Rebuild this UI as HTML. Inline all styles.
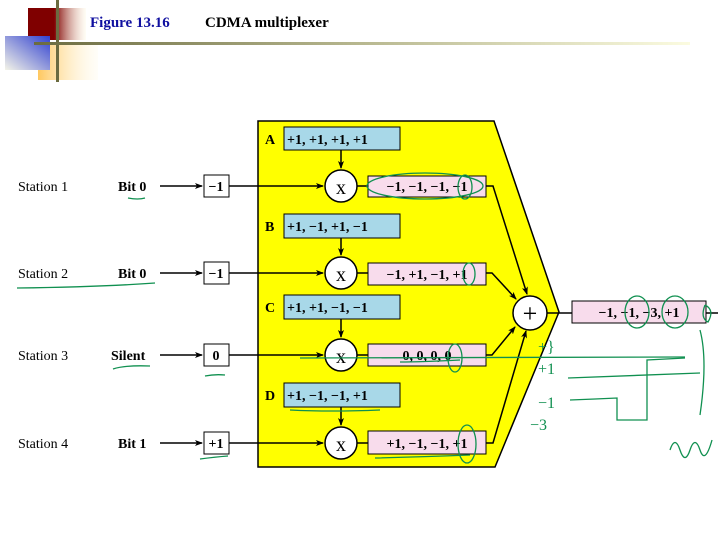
<!DOCTYPE html>
<html><head><meta charset="utf-8"><style>
body{margin:0;background:#fff}
svg{display:block}
text{font-family:"Liberation Serif",serif}
</style></head><body>
<svg width="720" height="540" viewBox="0 0 720 540" xmlns="http://www.w3.org/2000/svg">
<defs>
<linearGradient id="red" x1="0" x2="1"><stop offset="0.45" stop-color="#7f0000"/><stop offset="1" stop-color="#fff8e0" stop-opacity="0.3"/></linearGradient>
<linearGradient id="blu" x1="1" y1="0" x2="0" y2="1"><stop offset="0" stop-color="#3040d0"/><stop offset="1" stop-color="#f4f4e8"/></linearGradient>
<linearGradient id="org" x1="0" x2="1"><stop offset="0" stop-color="#ffc860"/><stop offset="1" stop-color="#fff8e0" stop-opacity="0.2"/></linearGradient>
<linearGradient id="hl" x1="0" x2="1"><stop offset="0" stop-color="#6b6b40"/><stop offset="0.5" stop-color="#b8b890"/><stop offset="1" stop-color="#fbfbe0"/></linearGradient>
<marker id="ar" markerWidth="8" markerHeight="8" refX="7" refY="4" orient="auto" markerUnits="userSpaceOnUse"><path d="M0,1 L8,4 L0,7 L2,4 Z" fill="#000"/></marker>
</defs>
<rect x="38" y="43" width="60" height="37" fill="url(#org)"/>
<rect x="28" y="8" width="58" height="32" fill="url(#red)"/>
<rect x="5" y="36" width="45" height="34" fill="url(#blu)"/>
<rect x="56" y="0" width="3" height="82" fill="#6b6b40"/>
<rect x="34" y="42" width="656" height="3" fill="url(#hl)"/>
<text x="90" y="27" font-size="15" font-weight="bold" fill="#1010a0">Figure 13.16</text>
<text x="205" y="27" font-size="15" font-weight="bold" fill="#000">CDMA multiplexer</text>

<polygon points="258,121 494,121 559,312 495,467 258,467" fill="#ffff00" stroke="#000" stroke-width="1.5"/>

<g font-size="14" font-weight="bold" fill="#000">
<text x="265" y="144">A</text><text x="265" y="231">B</text><text x="265" y="312">C</text><text x="265" y="400">D</text>
</g>
<g fill="#a8d8e8" stroke="#000" stroke-width="1">
<rect x="284" y="127" width="116" height="23"/><rect x="284" y="214" width="116" height="24"/>
<rect x="284" y="295" width="116" height="24"/><rect x="284" y="383" width="116" height="24"/>
</g>
<g font-size="14" font-weight="bold" fill="#000">
<text x="287" y="144">+1, +1, +1, +1</text>
<text x="287" y="231">+1, −1, +1, −1</text>
<text x="287" y="312">+1, +1, −1, −1</text>
<text x="287" y="400">+1, −1, −1, +1</text>
</g>
<g fill="#f8dcec" stroke="#000" stroke-width="1">
<rect x="368" y="176" width="118" height="21"/><rect x="368" y="263" width="118" height="22"/>
<rect x="368" y="344" width="118" height="22"/><rect x="368" y="431" width="118" height="23"/>
<rect x="572" y="301" width="134" height="22"/>
</g>
<g font-size="14" font-weight="bold" fill="#000" text-anchor="middle">
<text x="427" y="191">−1, −1, −1, −1</text>
<text x="427" y="279">−1, +1, −1, +1</text>
<text x="427" y="360">0, 0, 0, 0</text>
<text x="427" y="448">+1, −1, −1, +1</text>
<text x="639" y="317">−1, −1, −3, +1</text>
</g>

<g stroke="#000" stroke-width="1.5" fill="none">
<line x1="341" y1="150" x2="341" y2="168" marker-end="url(#ar)"/>
<line x1="341" y1="238" x2="341" y2="255" marker-end="url(#ar)"/>
<line x1="341" y1="319" x2="341" y2="337" marker-end="url(#ar)"/>
<line x1="341" y1="407" x2="341" y2="425" marker-end="url(#ar)"/>
<line x1="357" y1="186" x2="368" y2="186"/><line x1="357" y1="273" x2="368" y2="273"/>
<line x1="357" y1="355" x2="368" y2="355"/><line x1="357" y1="443" x2="368" y2="443"/>
<polyline points="486,186 493,186 527,294" marker-end="url(#ar)"/>
<polyline points="486,273 492,273 516,299" marker-end="url(#ar)"/>
<polyline points="486,355 492,355 515,327" marker-end="url(#ar)"/>
<polyline points="486,443 493,443 526,331" marker-end="url(#ar)"/>
<line x1="547" y1="313" x2="572" y2="313"/>
<line x1="706" y1="313" x2="718" y2="313"/>
<line x1="229" y1="186" x2="323" y2="186" marker-end="url(#ar)"/>
<line x1="229" y1="273" x2="323" y2="273" marker-end="url(#ar)"/>
<line x1="229" y1="355" x2="323" y2="355" marker-end="url(#ar)"/>
<line x1="229" y1="443" x2="323" y2="443" marker-end="url(#ar)"/>
<line x1="160" y1="186" x2="202" y2="186" marker-end="url(#ar)"/>
<line x1="160" y1="273" x2="202" y2="273" marker-end="url(#ar)"/>
<line x1="160" y1="355" x2="202" y2="355" marker-end="url(#ar)"/>
<line x1="160" y1="443" x2="202" y2="443" marker-end="url(#ar)"/>
</g>
<g fill="#fff" stroke="#000" stroke-width="1.5">
<circle cx="341" cy="186" r="16"/><circle cx="341" cy="273" r="16"/>
<circle cx="341" cy="355" r="16"/><circle cx="341" cy="443" r="16"/>
<circle cx="530" cy="313" r="17"/>
</g>
<g font-size="20" fill="#000" text-anchor="middle">
<text x="341" y="194" font-family="Liberation Sans,sans-serif">x</text>
<text x="341" y="281" font-family="Liberation Sans,sans-serif">x</text>
<text x="341" y="363" font-family="Liberation Sans,sans-serif">x</text>
<text x="341" y="451" font-family="Liberation Sans,sans-serif">x</text>
<text x="530" y="322" font-size="26" font-family="Liberation Sans,sans-serif">+</text>
</g>

<g fill="#fff" stroke="#000" stroke-width="1">
<rect x="204" y="175" width="25" height="22"/><rect x="204" y="262" width="25" height="22"/>
<rect x="204" y="344" width="25" height="22"/><rect x="204" y="432" width="25" height="22"/>
</g>
<g font-size="14" font-weight="bold" fill="#000" text-anchor="middle">
<text x="216" y="191">−1</text><text x="216" y="278">−1</text>
<text x="216" y="360">0</text><text x="216" y="448">+1</text>
</g>
<g font-size="14" fill="#000">
<text x="18" y="191">Station 1</text><text x="18" y="278">Station 2</text>
<text x="18" y="360">Station 3</text><text x="18" y="448">Station 4</text>
</g>
<g font-size="14" font-weight="bold" fill="#000">
<text x="118" y="191">Bit 0</text><text x="118" y="278">Bit 0</text>
<text x="111" y="360">Silent</text><text x="118" y="448">Bit 1</text>
</g>

<g font-family="Liberation Sans,sans-serif" font-size="16" fill="#109050">
<text x="538" y="352">+}</text>
<text x="538" y="374">+1</text>
<text x="538" y="408">−1</text>
<text x="530" y="430">−3</text>
</g>
<g stroke="#109050" stroke-width="1.3" fill="none">
<ellipse cx="425" cy="186" rx="58" ry="13"/>
<ellipse cx="465" cy="187" rx="7" ry="12"/>
<ellipse cx="469" cy="274" rx="6" ry="11"/>
<ellipse cx="455" cy="358" rx="7" ry="14"/>
<ellipse cx="467" cy="444" rx="9" ry="19"/>
<ellipse cx="637" cy="312" rx="12" ry="16"/><ellipse cx="675" cy="312" rx="13" ry="16"/>
<path d="M17,288 Q100,287 155,283"/>
<path d="M128,198 Q138,200 145,198"/>
<path d="M113,369 Q125,365 150,366"/>
<path d="M205,376 Q215,374 225,375"/>
<path d="M200,459 Q215,457 228,456"/>
<path d="M400,362 Q420,362 460,360"/>
<path d="M375,458 Q420,457 470,455"/>
<path d="M290,410 Q330,412 380,410"/>
<path d="M300,358 L685,357"/>
<path d="M568,378 L700,373"/>
<path d="M570,400 L595,399 L617,398 L617,420 L647,420 L647,360 L685,358"/>
<path d="M700,330 Q708,360 700,415"/>
<path d="M670,450 Q675,435 680,450 Q685,465 690,450 Q695,435 700,450 Q705,465 712,440"/>
<path d="M705,305 Q715,310 708,322 Q700,318 705,305"/>
</g>
</svg>
</body></html>
